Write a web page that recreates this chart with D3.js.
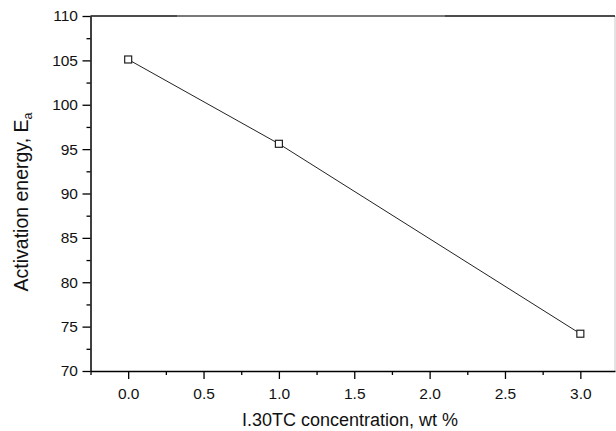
<!DOCTYPE html>
<html><head><meta charset="utf-8">
<script src="https://cdn.jsdelivr.net/npm/d3@7"></script>
<style>body{margin:0;background:#fff}svg{display:block}text{font-family:"Liberation Sans",Arial,sans-serif}</style>
</head><body><svg id="c" width="616" height="431"></svg>
<script>
const concentration = [0, 1, 3];
const energy = [105.1, 95.6, 74.2];
const xTicks = [0, 0.5, 1, 1.5, 2, 2.5, 3];
const yTicks = [70, 75, 80, 85, 90, 95, 100, 105, 110];
const xLabel = "I.30TC concentration, wt %";
const yLabel = "Activation energy, E";
const ySub = "a";

const svg = d3.select("#c");
const x = d3.scaleLinear().domain([-0.25, 3.23]).range([90.5, 615]);
const y = d3.scaleLinear().domain([70, 110]).range([371, 16]);

const xMinor = d3.range(-0.25, 3.24, 0.25).filter(v => Math.abs(v*2 - Math.round(v*2)) > 1e-6);
const yMinor = d3.range(72.5, 110, 5);

// frame: right and top
svg.append("line").attr("x1", 615).attr("x2", 615).attr("y1", 16).attr("y2", 371).attr("stroke", "#c8c8c8").attr("stroke-width", 1);
svg.append("line").attr("x1", x(-0.25)).attr("x2", 615).attr("y1", 16).attr("y2", 16).attr("stroke", "#111").attr("stroke-width", 1.5);
svg.append("line").attr("x1", 177).attr("x2", 445).attr("y1", 16).attr("y2", 16).attr("stroke", "#888").attr("stroke-width", 1.5);

// x axis
svg.append("g").attr("transform", "translate(0,371)")
  .call(d3.axisBottom(x).tickValues(xTicks).tickFormat(d3.format(".1f")).tickSize(8).tickSizeOuter(0).tickPadding(9));
svg.append("g").attr("transform", "translate(0,371)")
  .call(d3.axisBottom(x).tickValues(xMinor).tickFormat("").tickSize(4).tickSizeOuter(0))
  .select(".domain").remove();
// y axis
svg.append("g").attr("transform", "translate(" + x(-0.25) + ",0)")
  .call(d3.axisLeft(y).tickValues(yTicks).tickFormat(d3.format("d")).tickSize(8).tickSizeOuter(0).tickPadding(4.5));
svg.append("g").attr("transform", "translate(" + x(-0.25) + ",0)")
  .call(d3.axisLeft(y).tickValues(yMinor).tickFormat("").tickSize(4).tickSizeOuter(0))
  .select(".domain").remove();

svg.selectAll(".domain").attr("stroke", "#000").attr("stroke-width", 1.5);
svg.selectAll(".tick line").attr("stroke", "#000").attr("stroke-width", 1.3);
svg.selectAll(".tick text").attr("font-size", 15.5).attr("fill", "#111").attr("font-family", '"Liberation Sans",Arial,sans-serif');

// line
const pts = concentration.map((c, i) => [c, energy[i]]);
svg.append("path").datum(pts)
  .attr("d", d3.line().x(d => x(d[0])).y(d => y(d[1])))
  .attr("fill", "none").attr("stroke", "#222").attr("stroke-width", 1);
svg.selectAll("rect.pt").data(pts).enter().append("rect").attr("class", "pt")
  .attr("x", d => x(d[0]) - 3.5).attr("y", d => y(d[1]) - 3.5)
  .attr("width", 7).attr("height", 7)
  .attr("fill", "#fff").attr("stroke", "#222").attr("stroke-width", 1.2);

// labels
svg.append("text").attr("x", 350).attr("y", 426)
  .attr("text-anchor", "middle").attr("font-size", 18).attr("fill", "#111").text(xLabel);
const yl = svg.append("text").attr("transform", "translate(28,202) rotate(-90)")
  .attr("text-anchor", "middle").attr("font-size", 19.5).attr("fill", "#111");
yl.append("tspan").text(yLabel);
yl.append("tspan").attr("font-size", 12.5).attr("dy", 4).text(ySub);
</script></body></html>
